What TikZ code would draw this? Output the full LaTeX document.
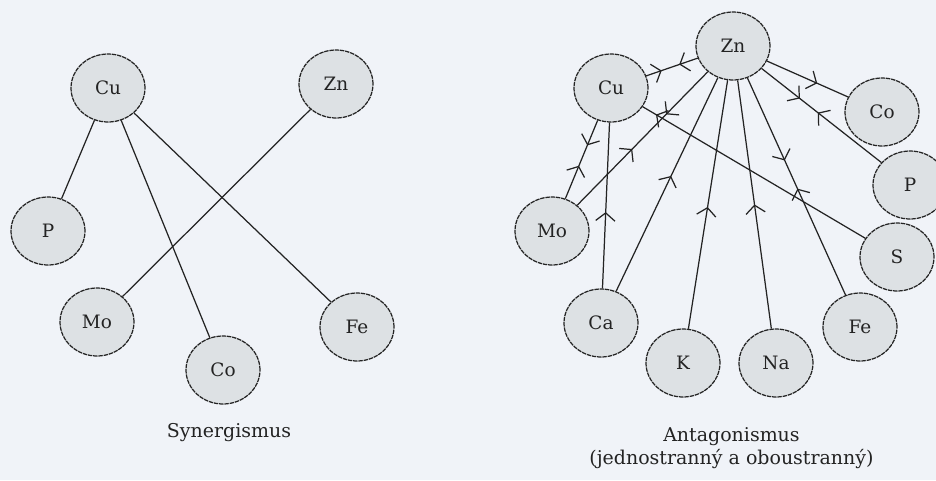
\documentclass[tikz,border=0pt]{standalone}
\usepackage{fontspec}
\setmainfont{DejaVu Serif}
\usetikzlibrary{shapes.geometric,arrows.meta,decorations.markings}

\definecolor{paper}{RGB}{240,243,248}
\definecolor{elemfill}{RGB}{221,225,228}
\definecolor{ink}{RGB}{35,35,35}

\tikzset{
  elem/.style={ellipse,draw=ink,fill=elemfill,line width=0.7pt,
    dash pattern=on 2.5pt off 0.5pt,minimum width=1.48cm,minimum height=1.36cm,
    inner sep=0pt,text=ink,font=\fontsize{10.5}{12}\selectfont},
  link/.style={draw=ink,line width=0.7pt},
  barb/.tip={Straight Barb[length=4.5pt,width=11pt]},
  fwd/.style={postaction={decorate,decoration={markings,
    mark=at position #1 with {\arrow{barb}}}}},
  bwd/.style={postaction={decorate,decoration={markings,
    mark=at position #1 with {\arrowreversed{barb}}}}},
  caption/.style={text=ink,font=\fontsize{10.8}{13}\selectfont,align=center}
}

\begin{document}
\begin{tikzpicture}

\fill[paper] (0,0) rectangle (18.72,9.6);
\useasboundingbox (0,0) rectangle (18.72,9.6);

% Synergismus
\foreach \n/\x/\y/\t in {sCu/2.16/7.84/Cu, sZn/6.72/7.92/Zn, sP/0.96/4.98/P,
  sMo/1.94/3.16/Mo, sCo/4.46/2.20/Co, sFe/7.14/3.06/Fe}
  \node[elem] (\n) at (\x,\y) {\t};

\foreach \a/\b in {sCu/sP, sCu/sCo, sCu/sFe, sZn/sMo}
  \draw[link] (\a) -- (\b);

\node[caption] (syn) at (4.58,0.94) {Synergismus};

% Antagonismus
\foreach \n/\x/\y/\t in {aZn/14.66/8.68/Zn, aCu/12.22/7.84/Cu, aCo/17.64/7.36/Co,
  aP/18.20/5.90/P, aMo/11.04/4.98/Mo, aS/17.94/4.46/S, aCa/12.02/3.14/Ca,
  aFe/17.20/3.06/Fe, aK/13.66/2.34/K, aNa/15.52/2.34/Na}
  \node[elem] (\n) at (\x,\y) {\t};

\draw[link,fwd=0.30,bwd=0.64] (aCu) -- (aZn);
\draw[link,fwd=0.62] (aZn) -- (aCo);
\draw[link,fwd=0.32,bwd=0.47] (aZn) -- (aP);
\draw[link,fwd=0.32,bwd=0.58] (aZn) -- (aMo);
\draw[link,fwd=0.32,bwd=0.58] (aCu) -- (aMo);
\draw[link,bwd=0.06] (aCu) -- (aS);
\draw[link,bwd=0.54] (aCu) -- (aCa);
\draw[link,bwd=0.46] (aZn) -- (aCa);
\draw[link,bwd=0.51] (aZn) -- (aK);
\draw[link,bwd=0.50] (aZn) -- (aNa);
\draw[link,fwd=0.38,bwd=0.51] (aZn) -- (aFe);

\node[caption] (ant) at (14.63,0.64) {Antagonismus\\(jednostranný a oboustranný)};

\end{tikzpicture}
\end{document}
